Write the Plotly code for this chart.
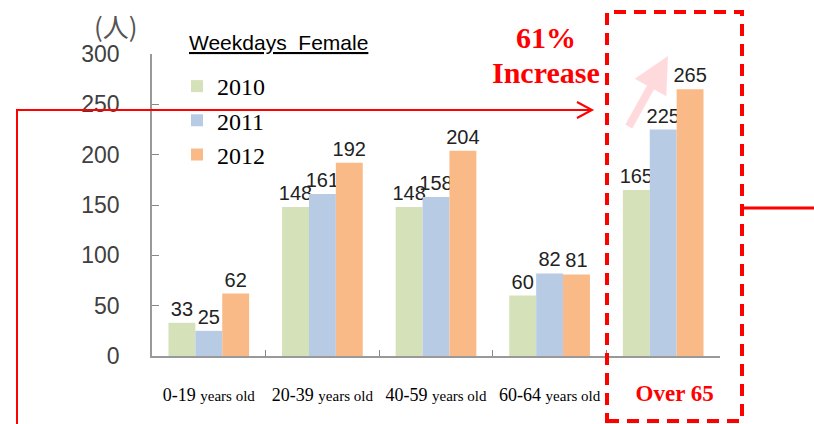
import plotly.graph_objects as go

W, H = 814, 424
ML, MR, MT, MB = 152, 94, 54, 68
PW, PH = W - ML - MR, H - MT - MB

categories = ["0-19", "20-39", "40-59", "60-64", "Over 65"]
tick_labels = [
    '0-19 <span style="font-size:15px">years old</span>',
    '20-39 <span style="font-size:15px">years old</span>',
    '40-59 <span style="font-size:15px">years old</span>',
    '60-64 <span style="font-size:15px">years old</span>',
    '<span style="font-size:23px;color:#ff0000">&nbsp;&nbsp;&nbsp;&nbsp;<b>Over 65</b></span>',
]
years = ["2010", "2011", "2012"]
v2010 = [33, 148, 148, 60, 165]
v2011 = [25, 161, 158, 82, 225]
v2012 = [62, 192, 204, 81, 265]
colors = ["#d5e1b9", "#b7cbe5", "#f9ba88"]


def px(x):
    return (x - ML) / PW


def py(y):
    return (MT + PH - y) / PH


fig = go.Figure()
for name, vals, c in zip(years, [v2010, v2011, v2012], colors):
    fig.add_trace(go.Bar(
        x=categories, y=vals, name=name,
        marker=dict(color=c, line=dict(width=0)),
        text=[str(v) for v in vals], textposition="outside",
        constraintext="none", cliponaxis=False,
        textfont=dict(family="Liberation Sans", size=20, color="#222222"),
    ))

fig.update_layout(
    width=W, height=H,
    margin=dict(l=ML, r=MR, t=MT, b=MB, autoexpand=False),
    paper_bgcolor="white", plot_bgcolor="white",
    barmode="group", bargap=0.29, bargroupgap=0,
    showlegend=True,
    legend=dict(
        x=px(177), y=py(64), xanchor="left", yanchor="top",
        xref="paper", yref="paper",
        bgcolor="rgba(0,0,0,0)",
        font=dict(family="Liberation Serif, Times New Roman, serif", size=24, color="#000000"),
        tracegroupgap=0,
    ),
    xaxis=dict(
        tickvals=categories, ticktext=tick_labels,
        tickson="boundaries", ticks="inside", ticklen=6, tickcolor="#888888",
        showline=True, linecolor="#999999", linewidth=1.5,
        showgrid=False, zeroline=False,
        tickfont=dict(family="Liberation Serif", size=18, color="#000000"),
        ticklabelstandoff=22,
    ),
    yaxis=dict(
        range=[0, 300], tickvals=[0, 50, 100, 150, 200, 250, 300],
        ticks="inside", ticklen=7, tickcolor="#888888",
        showline=True, linecolor="#999999", linewidth=1.5,
        showgrid=False, zeroline=False,
        tickfont=dict(family="Liberation Sans", size=23, color="#404040"),
        ticklabelstandoff=26,
    ),
)

shapes = []
shapes.append(dict(type="rect", xref="paper", yref="paper",
                   x0=px(607), x1=px(742), y0=py(421), y1=py(12),
                   line=dict(color="#ff0000", width=4, dash="12px,8px")))
shapes.append(dict(type="path", xref="paper", yref="paper",
                   path=f"M{px(17)},{py(430)} L{px(17)},{py(110)} L{px(591)},{py(110)}",
                   line=dict(color="#ff0000", width=2)))
shapes.append(dict(type="path", xref="paper", yref="paper",
                   path=f"M{px(577)},{py(102)} L{px(592)},{py(110)} L{px(577)},{py(118)}",
                   line=dict(color="#ff0000", width=2)))
shapes.append(dict(type="line", xref="paper", yref="paper",
                   x0=px(742), x1=px(820), y0=py(208), y1=py(208),
                   line=dict(color="#ff0000", width=3)))
fig.update_layout(shapes=shapes)

ann = [
    dict(text="<u>Weekdays  Female</u>", x=px(187), y=py(43), xref="paper", yref="paper",
         xanchor="left", yanchor="middle",
         showarrow=False, font=dict(family="Liberation Sans", size=21, color="#000000")),
    dict(text="(人)", x=px(116), y=py(25), xref="paper", yref="paper",
         xanchor="center", yanchor="middle",
         showarrow=False, font=dict(family="Noto Sans CJK JP", size=26, color="#555555")),
    dict(text="<b>61%</b>", x=px(546), y=py(38), xref="paper", yref="paper",
         xanchor="center", yanchor="middle",
         showarrow=False, font=dict(family="Liberation Serif", size=30, color="#ff0000")),
    dict(text="<b>Increase</b>", x=px(546), y=py(72), xref="paper", yref="paper",
         xanchor="center", yanchor="middle",
         showarrow=False, font=dict(family="Liberation Serif", size=30, color="#ff0000")),
    dict(text="", x=px(668), y=py(56), xref="paper", yref="paper",
         ax=-40, ay=72, showarrow=True, arrowhead=2, arrowsize=0.9, arrowwidth=8,
         arrowcolor="rgba(255,110,125,0.25)"),
]
fig.update_layout(annotations=ann)

fig.write_html("out.html", config={"displayModeBar": False},
               post_script="document.body.style.margin='0px';document.body.style.overflow='hidden';")
